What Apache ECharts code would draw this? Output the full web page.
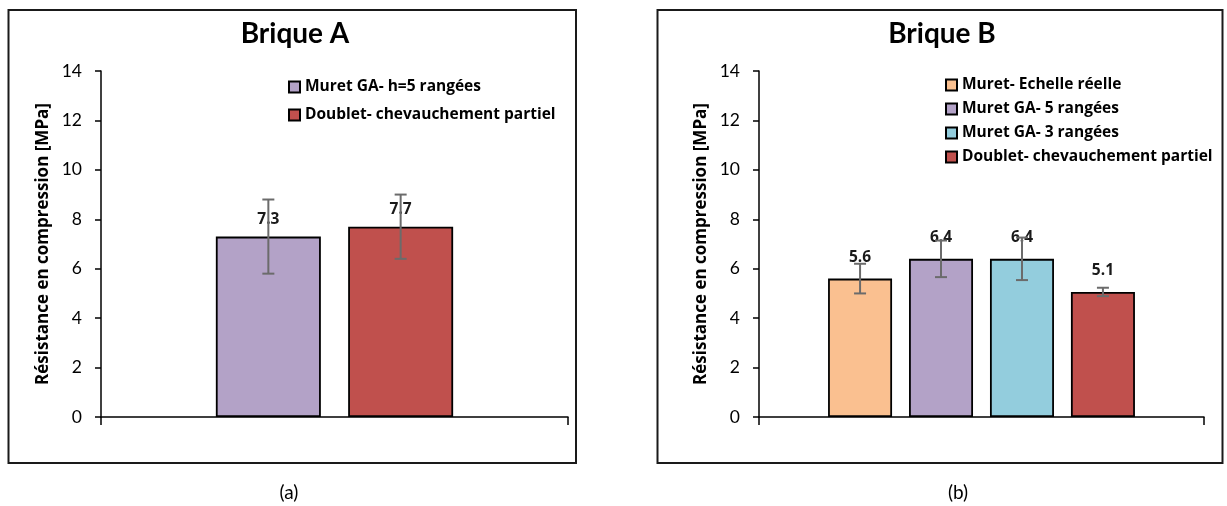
<!DOCTYPE html>
<html>
<head>
<meta charset="utf-8">
<script src="https://cdn.jsdelivr.net/npm/echarts@6/dist/echarts.min.js"></script>
<style>
  html, body { margin: 0; padding: 0; background: #fff; }
  #chart { width: 1227px; height: 506px; }
</style>
</head>
<body>
<div id="chart"></div>
<script>
// ---------- data ----------
const titleA = 'Brique A';
const titleB = 'Brique B';
const categoryA = ['A'];
const categoryB = ['B'];
const seriesNamesA = ['Muret GA- h=5 rangées', 'Doublet- chevauchement partiel'];
const valuesA = [7.3, 7.7];
const errorsA = [1.5, 1.3];
const seriesNamesB = ['Muret- Echelle réelle', 'Muret GA- 5 rangées', 'Muret GA- 3 rangées', 'Doublet- chevauchement partiel'];
const valuesB = [5.6, 6.4, 6.4, 5.06];
const errorsB = [0.6, 0.74, 0.86, 0.17];
const yAxisName = 'Résistance en compression [MPa]';
const yMin = 0, yMax = 14, yStep = 2;
const panelLabels = ['(a)', '(b)'];

// ---------- styles ----------
const FONT = 'Lato';
const BFONT = 'Open Sans';
const colorsA = ['#B3A2C7', '#C0504D'];
const colorsB = ['#FAC090', '#B3A2C7', '#93CDDD', '#C0504D'];
const barWidthA = 105, barGapA = '26%';
const barWidthB = 64, barGapB = '26.5%';

const chart = echarts.init(document.getElementById('chart'), null, { renderer: 'canvas' });

function yAxisCfg(gridIndex) {
  return {
    type: 'value', gridIndex, min: yMin, max: yMax, interval: yStep,
    name: yAxisName, nameLocation: 'middle', nameRotate: 90, nameGap: 49,
    nameTextStyle: { fontFamily: BFONT, fontWeight: 'bold', fontSize: 17, color: '#000' },
    axisLine: { show: true, lineStyle: { color: '#000', width: 1.5 } },
    axisTick: { show: true, inside: false, length: 6, lineStyle: { color: '#000', width: 1.5 } },
    axisLabel: { fontFamily: FONT, fontSize: 17.5, color: '#000', margin: 19 },
    splitLine: { show: false }
  };
}
function xAxisCfg(gridIndex, data) {
  return {
    type: 'category', gridIndex, data, boundaryGap: true,
    axisLine: { show: true, lineStyle: { color: '#000', width: 1.5 } },
    axisTick: { show: true, inside: false, length: 8, lineStyle: { color: '#000', width: 1.5 } },
    axisLabel: { show: false },
    splitLine: { show: false }
  };
}

function barSeries(names, values, colors, axisIdx, barWidth, barGap, labelDist) {
  return names.map((n, i) => ({
    type: 'bar', name: n, xAxisIndex: axisIdx, yAxisIndex: axisIdx,
    data: [values[i]], barWidth, barGap,
    itemStyle: { color: colors[i], borderColor: '#000', borderWidth: 1.8 },
    label: {
      show: true, position: 'top', distance: labelDist,
      fontFamily: BFONT, fontWeight: 'bold', fontSize: 15.5, color: '#1a1a1a',
      formatter: p => Number(p.value).toFixed(1)
    },
    z: 2
  }));
}

function errorSeries(values, errors, axisIdx, barWidth, barGap) {
  const data = values.map((v, i) => [0, v, errors[i], i]);
  return {
    type: 'custom', xAxisIndex: axisIdx, yAxisIndex: axisIdx,
    data, z: 5, silent: true,
    renderItem: function (params, api) {
      const idx = api.value(3);
      const v = api.value(1), e = api.value(2);
      let layout = null;
      if (api.barLayout) {
        layout = api.barLayout({ count: values.length, barWidth: barWidth, barGap: barGap });
      }
      const base = api.coord([api.value(0), v]);
      let x = base[0];
      if (layout && layout[idx]) x += layout[idx].offsetCenter;
      const yHi = api.coord([api.value(0), v + e])[1];
      const yLo = api.coord([api.value(0), v - e])[1];
      const cap = 6;
      const st = { stroke: '#6B6B6B', lineWidth: 2 };
      return {
        type: 'group',
        children: [
          { type: 'line', shape: { x1: x, y1: yHi, x2: x, y2: yLo }, style: st },
          { type: 'line', shape: { x1: x - cap, y1: yHi, x2: x + cap, y2: yHi }, style: st },
          { type: 'line', shape: { x1: x - cap, y1: yLo, x2: x + cap, y2: yLo }, style: st }
        ]
      };
    }
  };
}

const legendText = { fontFamily: BFONT, fontWeight: 'bold', fontSize: 15.5, color: '#000', lineHeight: 20 };

const option = {
  animation: false,
  backgroundColor: '#fff',
  title: [
    { text: titleA, left: 295, top: 20, textAlign: 'center', padding: 0,
      textStyle: { fontFamily: FONT, fontWeight: 'bold', fontSize: 28, color: '#000' } },
    { text: titleB, left: 942, top: 20, textAlign: 'center', padding: 0,
      textStyle: { fontFamily: FONT, fontWeight: 'bold', fontSize: 28, color: '#000' } }
  ],
  legend: [
    { data: seriesNamesA, orient: 'vertical', left: 288, top: 77, padding: 0,
      itemWidth: 11, itemHeight: 11, itemGap: 8, icon: 'rect', textStyle: legendText },
    { data: seriesNamesB, orient: 'vertical', left: 945, top: 75, padding: 0,
      itemWidth: 11, itemHeight: 11, itemGap: 4, icon: 'rect', textStyle: legendText }
  ],
  grid: [
    { left: 101, top: 71, width: 467, height: 346 },
    { left: 759, top: 71, width: 445, height: 346 }
  ],
  xAxis: [xAxisCfg(0, categoryA), xAxisCfg(1, categoryB)],
  yAxis: [yAxisCfg(0), yAxisCfg(1)],
  series: [
    ...barSeries(seriesNamesA, valuesA, colorsA, 0, barWidthA, barGapA, 9),
    errorSeries(valuesA, errorsA, 0, barWidthA, barGapA),
    ...barSeries(seriesNamesB, valuesB, colorsB, 1, barWidthB, barGapB, 13),
    errorSeries(valuesB, errorsB, 1, barWidthB, barGapB)
  ],
  graphic: [
    { type: 'rect', shape: { x: 8.5, y: 10, width: 567.5, height: 453 },
      style: { fill: 'none', stroke: '#1a1a1a', lineWidth: 2 }, silent: true, z: -1 },
    { type: 'rect', shape: { x: 657.5, y: 10, width: 565, height: 453 },
      style: { fill: 'none', stroke: '#1a1a1a', lineWidth: 2 }, silent: true, z: -1 },
    { type: 'text', x: 289, y: 493,
      style: { text: panelLabels[0], fontFamily: FONT, fontSize: 19, fill: '#000', textAlign: 'center', textVerticalAlign: 'middle' } },
    { type: 'text', x: 958, y: 493,
      style: { text: panelLabels[1], fontFamily: FONT, fontSize: 19, fill: '#000', textAlign: 'center', textVerticalAlign: 'middle' } }
  ]
};

chart.setOption(option);
</script>
</body>
</html>
